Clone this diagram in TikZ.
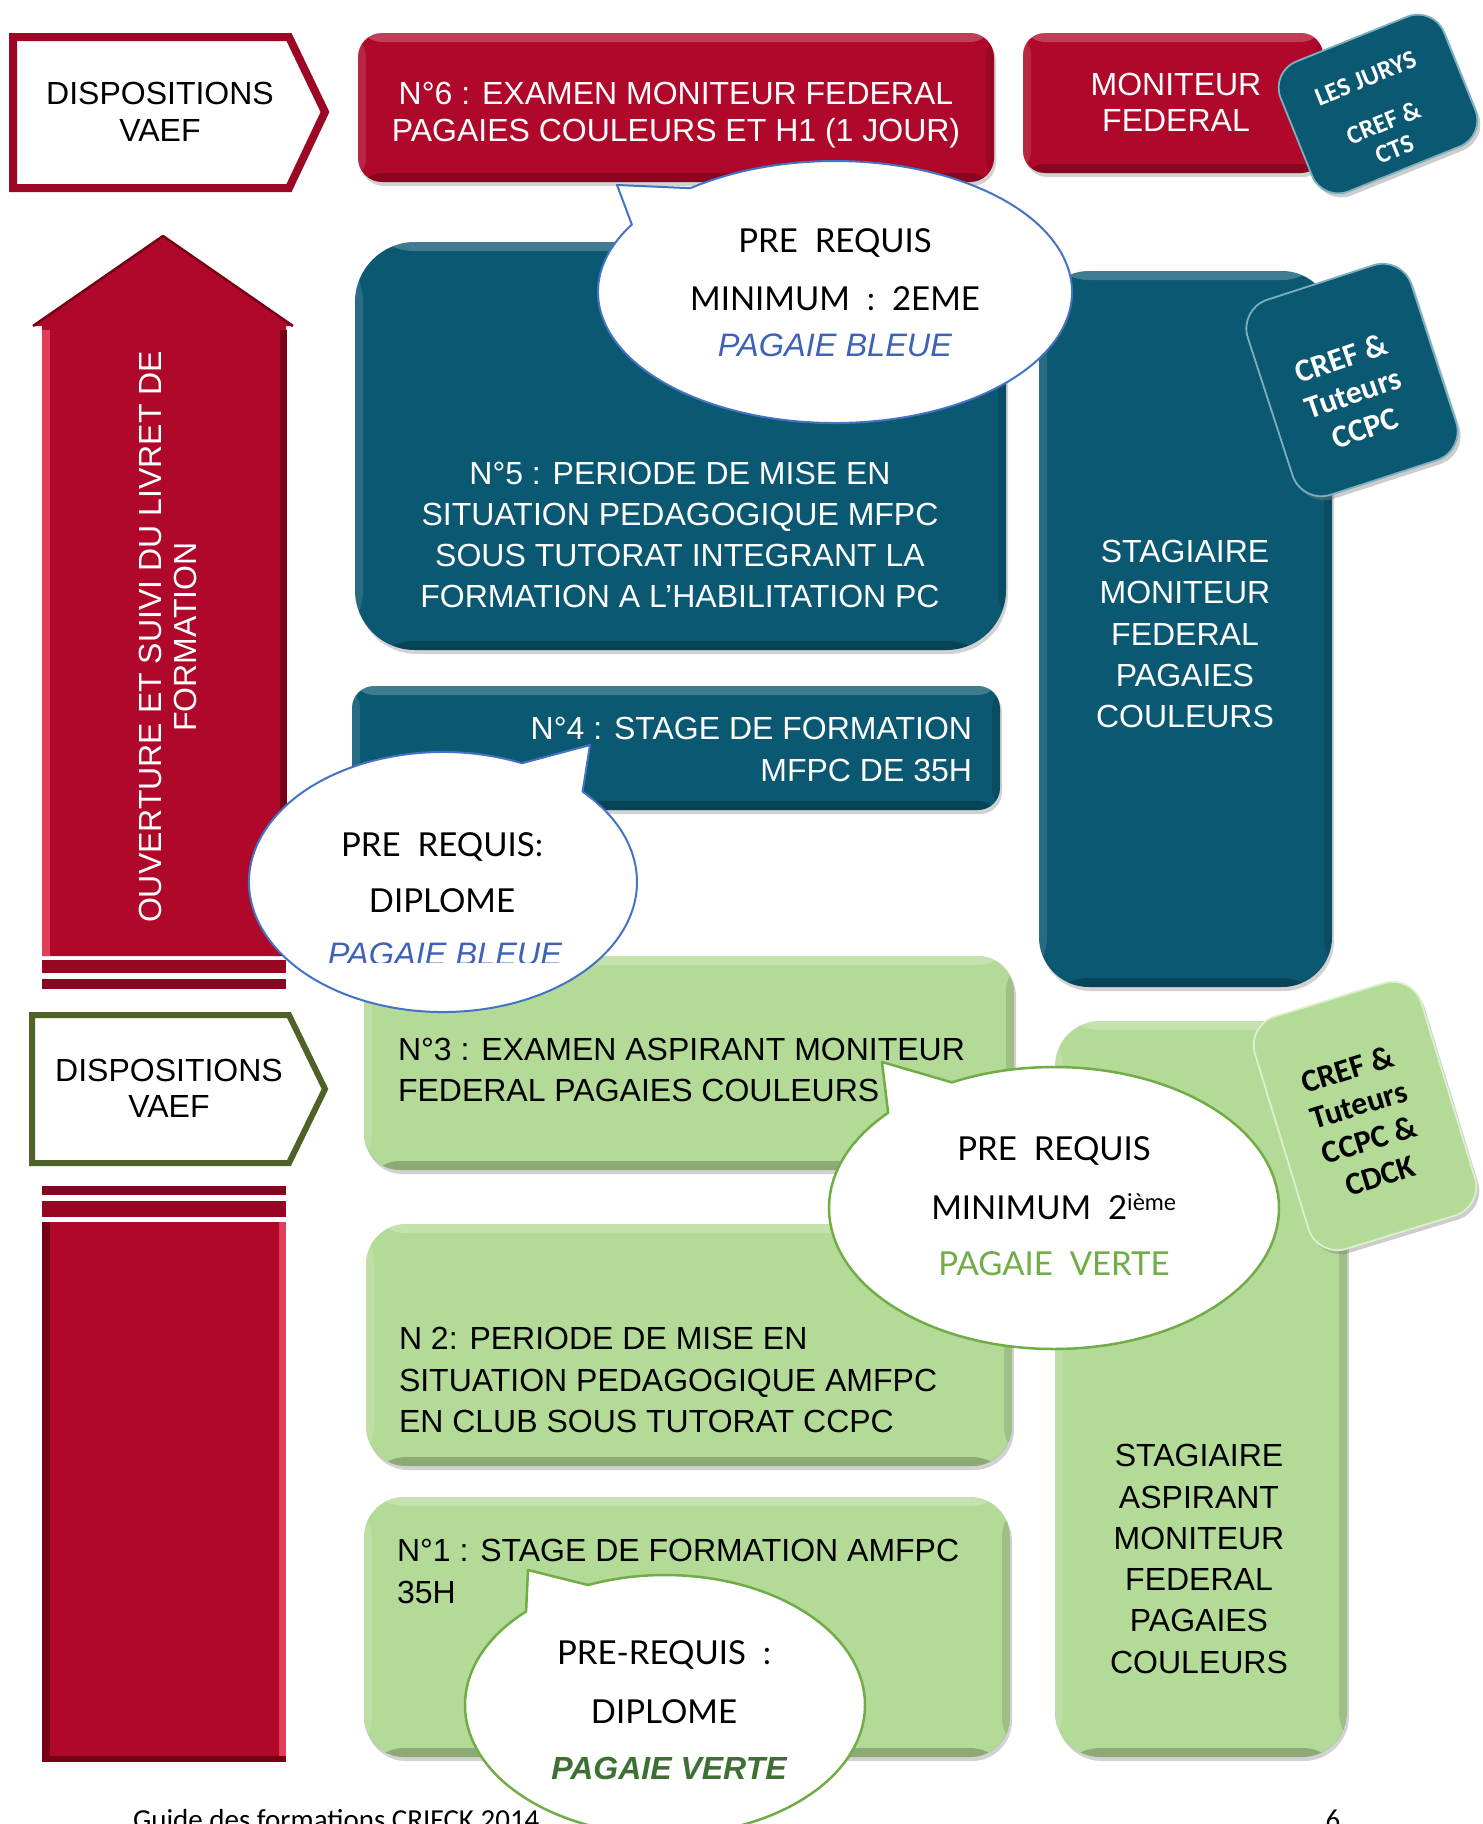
\documentclass[tikz,border=0pt]{standalone}
\usepackage{fontspec}
\setmainfont{Liberation Sans}
\newfontfamily\callfont{Lato}
\newfontfamily\calfont{Carlito}
\usetikzlibrary{shadows,calc}
\definecolor{crim}{RGB}{176,8,42}
\definecolor{crimlight}{RGB}{225,62,92}
\definecolor{crimdark}{RGB}{118,0,22}
\definecolor{teal1}{RGB}{11,88,114}
\definecolor{tealedge}{RGB}{125,175,190}
\definecolor{grn}{RGB}{180,218,152}
\definecolor{grnedge}{RGB}{220,240,205}
\definecolor{olive}{RGB}{78,98,40}
\definecolor{bblue}{RGB}{68,114,196}
\definecolor{bgreen}{RGB}{112,173,71}
\definecolor{hblue}{RGB}{62,98,182}
\definecolor{dgreen}{RGB}{62,112,52}
\tikzset{
  every node/.style={inner sep=0pt, outer sep=0pt},
  bevel/.style={path picture={
    \fill[white,opacity=.22] (path picture bounding box.north west) rectangle ([yshift=-9pt]path picture bounding box.north east);
    \fill[white,opacity=.12] (path picture bounding box.north west) rectangle ([xshift=8pt]path picture bounding box.south west);
    \fill[black,opacity=.22] ([yshift=9pt]path picture bounding box.south west) rectangle (path picture bounding box.south east);
    \fill[black,opacity=.12] ([xshift=-8pt]path picture bounding box.north east) rectangle (path picture bounding box.south east);}},
  bx/.style={anchor=north west, bevel, drop shadow={shadow xshift=2pt, shadow yshift=-4pt, opacity=.35}},
  redbx/.style={bx, fill=crim},
  tealbx/.style={bx, fill=teal1},
  grnbx/.style={bx, fill=grn},
  rotbx/.style={line width=1.8pt, drop shadow={shadow xshift=3pt, shadow yshift=-4pt, opacity=.4}},
  wtxt/.style={text=white, font=\fontsize{32}{41.3}\selectfont, align=center},
  ktxt/.style={text=black, font=\fontsize{32}{41.3}\selectfont, align=left, anchor=west},
  rottxt/.style={font=\calfont\bfseries\fontsize{32}{37}\selectfont, align=center},
  ctxt/.style={font=\callfont\fontsize{33}{36}\selectfont},
  htxt/.style={font=\itshape\fontsize{32.5}{36}\selectfont, text=hblue},
  bubB/.style={fill=white, draw=bblue, line width=2pt, line join=round},
  bubG/.style={fill=white, draw=bgreen, line width=2.5pt, line join=round},
}
\begin{document}
\begin{tikzpicture}[x=1pt,y=1pt]
\useasboundingbox (0,0) rectangle (1483,-1824);
\clip (0,0) rectangle (1483,-1824);
\fill[white] (0,0) rectangle (1483,-1824);

% big red arrow (top left)
\fill[crim] (42,-956) -- (42,-326) -- (33,-326) -- (163,-236) -- (293,-326) -- (286,-326) -- (286,-956) -- cycle;
\fill[crimlight] (42,-330) rectangle (50,-956);
\fill[crimdark] (280,-330) rectangle (287,-956);
\draw[crimdark, line width=2.5pt, line join=round] (33,-326) -- (163,-236) -- (293,-326);
\fill[crim!85!black] (42,-960) rectangle (286,-973);
\fill[crim!75!black] (42,-979) rectangle (286,-989);
\node[rotate=90, wtxt, font=\fontsize{32}{35}\selectfont] (vt) at (168,-637) {OUVERTURE ET SUIVI DU LIVRET DE\\FORMATION};

% bottom red bar
\fill[crim!75!black] (42,-1186) rectangle (286,-1195);
\fill[crim!85!black] (42,-1201) rectangle (286,-1217);
\fill[crim] (42,-1222) rectangle (286,-1762);
\fill[crimdark] (42,-1222) rectangle (50,-1762);
\fill[crimlight] (279,-1222) rectangle (286,-1762);
\fill[crimdark] (42,-1756) rectangle (286,-1762);

% DISPOSITIONS VAEF arrows
\draw[line width=8pt, draw=crim!88!black, fill=white, line join=miter] (13,-37) -- (289,-37) -- (325,-112) -- (289,-188) -- (13,-188) -- cycle;
\node[text=black, font=\fontsize{32}{37}\selectfont, align=center] (d1) at (160,-112) {DISPOSITIONS\\VAEF};
\draw[line width=6pt, draw=olive, fill=white, line join=miter] (32,-1015) -- (289,-1015) -- (325,-1089) -- (289,-1163) -- (32,-1163) -- cycle;
\node[text=black, font=\fontsize{32}{36}\selectfont, align=center] (d2) at (169,-1088) {DISPOSITIONS\\VAEF};

% red boxes
\node[redbx, minimum width=636pt, minimum height=149pt, rounded corners=24pt] (n6) at (358,-33) {};
\node[wtxt, font=\fontsize{32}{37}\selectfont] (n6t) at (676,-115) {N°6 : EXAMEN MONITEUR FEDERAL\\PAGAIES COULEURS ET H1 (1 JOUR)};
\node[redbx, minimum width=300pt, minimum height=140pt, rounded corners=22pt] (mf) at (1023,-33) {};
\node[wtxt, font=\fontsize{32}{36}\selectfont] (mft) at (1176,-102) {MONITEUR\\FEDERAL};

% teal boxes
\node[tealbx, minimum width=651pt, minimum height=408pt, rounded corners=60pt] (n5) at (355,-242) {};
\node[wtxt] (n5t) at (680,-535) {N°5 : PERIODE DE MISE EN\\SITUATION PEDAGOGIQUE MFPC\\SOUS TUTORAT INTEGRANT LA\\FORMATION A L’HABILITATION PC};
\node[tealbx, minimum width=648pt, minimum height=124pt, rounded corners=22pt] (n4) at (352,-686) {};
\node[wtxt, align=right, anchor=east, font=\fontsize{32}{42}\selectfont] (n4t) at (972,-749) {N°4 : STAGE DE FORMATION\\MFPC DE 35H};
\node[tealbx, minimum width=293pt, minimum height=716pt, rounded corners=50pt] (st1) at (1039,-271) {};
\node[wtxt] (st1t) at (1185,-634) {STAGIAIRE\\MONITEUR\\FEDERAL\\PAGAIES\\COULEURS};

% green boxes
\node[grnbx, minimum width=650pt, minimum height=214pt, rounded corners=36pt] (n3) at (364,-956) {};
\node[ktxt] (n3t) at (398,-1070) {N°3 : EXAMEN ASPIRANT MONITEUR\\FEDERAL PAGAIES COULEURS};
\node[grnbx, minimum width=646pt, minimum height=242pt, rounded corners=40pt] (n2) at (366,-1224) {};
\node[ktxt] (n2t) at (399,-1380) {N 2: PERIODE DE MISE EN\\SITUATION PEDAGOGIQUE AMFPC\\EN CLUB SOUS TUTORAT CCPC};
\node[grnbx, minimum width=646pt, minimum height=260pt, rounded corners=40pt] (n1) at (364,-1497) {};
\node[ktxt, font=\fontsize{32}{42}\selectfont] (n1t) at (397,-1571) {N°1 : STAGE DE FORMATION AMFPC\\35H};
\node[grnbx, minimum width=292pt, minimum height=736pt, rounded corners=45pt] (st2) at (1055,-1021) {};
\node[wtxt, text=black] (st2t) at (1199,-1559) {STAGIAIRE\\ASPIRANT\\MONITEUR\\FEDERAL\\PAGAIES\\COULEURS};

% rotated tags
\node[rotbx, fill=teal1, draw=tealedge, rotate=22, minimum width=176pt, minimum height=140pt, rounded corners=28pt] (jury) at (1378,-104) {};
\node[rottxt, rotate=22, text=white, font=\calfont\bfseries\fontsize{26}{29}\selectfont] (juryt) at (1380,-114) {LES JURYS\\[19pt]CREF \&\\CTS};
\node[rotbx, fill=teal1, draw=tealedge, rotate=18, minimum width=172pt, minimum height=205pt, rounded corners=30pt] (cref1) at (1352,-380) {};
\node[rottxt, rotate=19, text=white] (cref1t) at (1353,-393) {CREF \&\\Tuteurs\\CCPC};
\node[rotbx, fill=grn, draw=grnedge, rotate=17, minimum width=174pt, minimum height=243pt, rounded corners=30pt] (cref2) at (1365,-1116) {};
\node[rottxt, rotate=17, text=black] (cref2t) at (1364,-1122) {CREF \&\\Tuteurs\\CCPC \&\\CDCK};

% callout 1
\filldraw[bubB] (617,-185) -- ($(835,-292)+(149:237pt and 131pt)$) arc[start angle=149, end angle=487.6, x radius=237pt, y radius=131pt] -- cycle;
\node[ctxt] (c1a) at (835,-243) {PRE~~REQUIS};
\node[ctxt] (c1b) at (835,-299) {MINIMUM~~:~~2EME};
\node[htxt] (c1c) at (835,-345) {PAGAIE BLEUE};

% callout 2
\filldraw[bubB] (590,-745) -- ($(443,-882)+(66:194pt and 130pt)$) arc[start angle=66, end angle=404, x radius=194pt, y radius=130pt] -- cycle;
\node[ctxt] (c2a) at (442,-847) {PRE~~REQUIS:};
\node[ctxt] (c2b) at (442,-901) {DIPLOME};
\begin{scope}
\clip (300,-920) rectangle (600,-962);
\node[htxt] (c2c) at (445,-954) {PAGAIE BLEUE};
\end{scope}

% callout 3
\filldraw[bubG] (882,-1062) -- ($(1054,-1208)+(137.5:225pt and 141pt)$) arc[start angle=137.5, end angle=477, x radius=225pt, y radius=141pt] -- cycle;
\node[ctxt] (c3a) at (1054,-1151) {PRE~~REQUIS};
\node[ctxt] (c3b) at (1054,-1207) {MINIMUM~~2\textsuperscript{ième}};
\node[ctxt, text=bgreen] (c3c) at (1054,-1264) {PAGAIE~~VERTE};

% callout 4
\filldraw[bubG] (528,-1570) -- ($(665,-1705)+(134:200pt and 130pt)$) arc[start angle=134, end angle=472.6, x radius=200pt, y radius=130pt] -- cycle;
\node[ctxt] (c4a) at (664,-1655) {PRE-REQUIS~~:};
\node[ctxt] (c4b) at (664,-1712) {DIPLOME};
\node[htxt, font=\bfseries\itshape\fontsize{32}{34}\selectfont, text=dgreen] (c4c) at (669,-1768) {PAGAIE VERTE};

% footer
\node[anchor=base west, font=\calfont\fontsize{29}{30}\selectfont] (foot) at (133,-1829) {Guide des formations CRIFCK 2014};
\node[anchor=base, font=\calfont\fontsize{29}{30}\selectfont] (page) at (1333,-1829) {6};
\end{tikzpicture}
\end{document}
